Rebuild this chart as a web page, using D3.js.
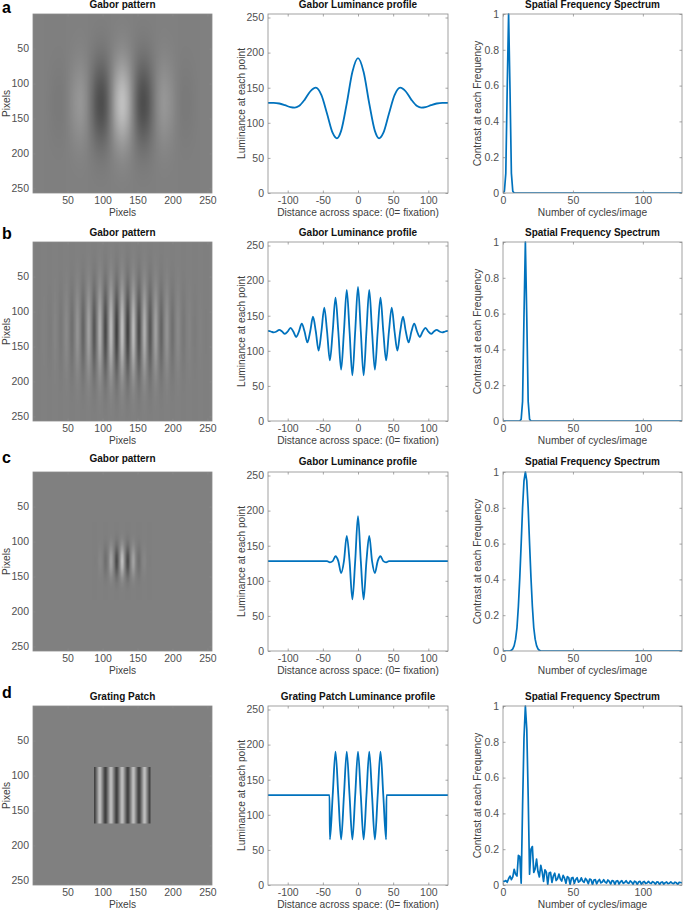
<!DOCTYPE html>
<html><head><meta charset="utf-8">
<script src="https://cdn.jsdelivr.net/npm/d3@7/dist/d3.min.js"></script>
<style>
body{margin:0;background:#fff}
text{font-family:"Liberation Sans",Arial,Helvetica,sans-serif}
</style>
</head><body>
<svg id="fig" width="684" height="914"></svg>
<script>
// ---------------- DATA ----------------
const rowLetters = ["a", "b", "c", "d"];
const imageTitles = ["Gabor pattern", "Gabor pattern", "Gabor pattern", "Grating Patch"];
const profileTitles = ["Gabor Luminance profile", "Gabor Luminance profile", "Gabor Luminance profile", "Grating Patch Luminance profile"];
const spectrumTitle = "Spatial Frequency Spectrum";
const pixelLabel = "Pixels";
const profileXLabel = "Distance across space: (0= fixation)";
const profileYLabel = "Luminance at each point";
const spectrumXLabel = "Number of cycles/image";
const spectrumYLabel = "Contrast at each Frequency";

const pixelTicks = [50, 100, 150, 200, 250];
const distanceTicks = [-100, -50, 0, 50, 100];
const luminanceTicks = [0, 50, 100, 150, 200, 250];
const cycleTicks = [0, 50, 100];
const contrastTicks = [0, 0.2, 0.4, 0.6, 0.8, 1];

// luminance profiles [distance, luminance] (centre row of each pattern)
const profileA = [[-128,128.3],[-120,128.4],[-112,127.5],[-104,125.1],[-96,122.2],[-90,121.5],[-84,123.8],[-76,132.7],[-68,144.6],[-60,150.0],[-52,139.4],[-44,112.9],[-36,85.5],[-30,77.9],[-24,88.5],[-16,127.5],[-8,172.3],[0,192],
  [8,172.3],[16,127.5],[24,88.5],[30,77.9],[36,85.5],[44,112.9],[52,139.4],[60,150.0],[68,144.6],[76,132.7],[84,123.8],[90,121.5],[96,122.2],[104,125.1],[112,127.5],[120,128.4],[128,128.3]];

const profileB = [[-128,128.3],[-124,127.5],[-120,126.2],[-116,127.5],[-112,129.7],[-108,127.5],[-104,124.1],[-100,127.5],[-96,132.8],[-92,127.5],[-88,119.7],[-84,127.5],[-80,138.7],[-76,127.5],[-72,111.9],[-68,127.5],[-64,148.5],[-60,127.5],[-56,100.3],[-52,127.5],[-48,161.6],[-44,127.5],[-40,86.3],[-36,127.5],[-32,175.6],[-28,127.5],[-24,73.1],[-20,127.5],[-16,186.7],[-12,127.5],[-8,65.1],[-4,127.5],[0,191],
  [4,127.5],[8,65.1],[12,127.5],[16,186.7],[20,127.5],[24,73.1],[28,127.5],[32,175.6],[36,127.5],[40,86.3],[44,127.5],[48,161.6],[52,127.5],[56,100.3],[60,127.5],[64,148.5],[68,127.5],[72,111.9],[76,127.5],[80,138.7],[84,127.5],[88,119.7],[92,127.5],[96,132.8],[100,127.5],[104,124.1],[108,127.5],[112,129.7],[116,127.5],[120,126.2],[124,127.5],[128,128.3]];

const profileC = [[-128,128],[-56,128],[-48,128],[-44,128],[-40,126.3],[-36,128],[-32,135],[-28,128],[-24,111],[-20,128],[-16,164],[-12,128],[-8,73.5],[-4,128],[0,192],
  [4,128],[8,73.5],[12,128],[16,164],[20,128],[24,111],[28,128],[32,135],[36,128],[40,126.3],[44,128],[48,128],[56,128],[128,128]];

const profileD = [[-128,128],[-40.5,128],[-40,65],[-36,127.5],[-32,190],[-28,127.5],[-24,65],[-20,127.5],[-16,190],[-12,127.5],[-8,65],[-4,127.5],[0,190],
  [4,127.5],[8,65],[12,127.5],[16,190],[20,127.5],[24,65],[28,127.5],[32,190],[36,127.5],[40,65],[40.5,128],[128,128]];

// vertical contrast envelope of each pattern [distance from centre row, relative contrast]
const envelopeWide = [[0,1],[8,0.983],[16,0.933],[24,0.856],[32,0.758],[40,0.649],[48,0.537],[56,0.428],[64,0.33],[72,0.246],[80,0.177],[88,0.123],[96,0.083],[104,0.054],[112,0.034],[120,0.02],[128,0.012]];
const envelopeNarrow = [[0,1],[8,0.867],[16,0.566],[24,0.278],[32,0.103],[40,0.029],[48,0.006],[56,0],[128,0]];
const envelopePatch = [[0,1],[40,1],[40.5,0],[128,0]];

// spectra [cycles/image, contrast]
const spectrumA = [[0,0],[1,0.01],[2,0.11],[3,0.58],[4,1],[5,0.58],[6,0.11],[7,0.01],[8,0],[128,0]];
const spectrumB = [[0,0],[12,0],[13,0.01],[14,0.11],[15,0.58],[16,1],[17,0.58],[18,0.11],[19,0.01],[20,0],[128,0]];
const spectrumC = [[0,0],[5,0],[6,0.004],[7,0.012],[8,0.03],[9,0.066],[10,0.13],[11,0.25],[12,0.41],[13,0.6],[14,0.8],[15,0.95],[16,1],[17,0.95],[18,0.8],[19,0.6],[20,0.41],[21,0.25],[22,0.13],[23,0.066],[24,0.03],[25,0.012],[26,0.004],[27,0],[128,0]];
const spectrumDValues = [0.02,0.02,0.025,0.015,0.035,0.05,0.03,0.045,0.088,0.06,0.05,0.165,0.16,0.01,0.44,0.82,1,0.87,0.5,0.06,0.2,0.215,0.07,0.09,0.145,0.075,0.045,0.11,0.075,0.02,0.085,0.072,0.003,
  0.067,0.071,0.014,0.05,0.066,0.025,0.035,0.061,0.033,0.022,0.054,0.038,0.01,0.047,0.041,0.002,
  0.039,0.042,0.009,0.031,0.041,0.016,0.022,0.04,0.022,0.015,0.037,0.026,0.007,0.033,0.029,0.002,
  0.028,0.03,0.006,0.022,0.031,0.012,0.017,0.03,0.016,0.011,0.028,0.02,0.005,0.025,0.022,0.002,
  0.022,0.024,0.005,0.018,0.024,0.009,0.014,0.024,0.013,0.009,0.023,0.016,0.004,0.021,0.018,0.002,
  0.018,0.02,0.004,0.015,0.02,0.008,0.011,0.02,0.011,0.008,0.019,0.014,0.004,0.017,0.016,0.002,
  0.015,0.017,0.004,0.013,0.017,0.007,0.01,0.017,0.01,0.007,0.016,0.012,0.003,0.015,0.014,0.012];

// ---------------- LAYOUT ----------------
const rowTops = [14, 242, 472, 706];
const PH = 179;
const colImg = {x: 33, w: 179}, colProf = {x: 268, w: 180}, colSpec = {x: 503, w: 179};
const letterBase = [13, 239, 463, 698];
const titleOffset = [6, 6, 7, 6];
const lineColor = "#0072BD";
const boxColor = "#8a8a8a";
const tickTextColor = "#505050";
const labelColor = "#404040";

const rows = [
  {profile: profileA, envelope: envelopeWide, spectrum: spectrumA},
  {profile: profileB, envelope: envelopeWide, spectrum: spectrumB},
  {profile: profileC, envelope: envelopeNarrow, spectrum: spectrumC},
  {profile: profileD, envelope: envelopePatch, spectrum: spectrumDValues.map((v, i) => [i, v])}
];

const svg = d3.select("#fig");
const defs = svg.append("defs");

// monotone cubic (same family as d3.curveMonotoneX) evaluator for image shading
function monotoneFn(pts) {
  const n = pts.length, xs = pts.map(p => p[0]), ys = pts.map(p => p[1]);
  const h = [], s = [], m = new Array(n).fill(0);
  for (let i = 0; i < n - 1; i++) { h[i] = xs[i+1] - xs[i]; s[i] = (ys[i+1] - ys[i]) / h[i]; }
  for (let i = 1; i < n - 1; i++) {
    const p = (s[i-1] * h[i] + s[i] * h[i-1]) / (h[i-1] + h[i]);
    m[i] = ((Math.sign(s[i-1]) + Math.sign(s[i])) * Math.min(Math.abs(s[i-1]), Math.abs(s[i]), 0.5 * Math.abs(p))) || 0;
  }
  m[0] = (3 * s[0] - m[1]) / 2;
  m[n-1] = (3 * s[n-2] - m[n-2]) / 2;
  return function(x) {
    if (x <= xs[0]) return ys[0];
    if (x >= xs[n-1]) return ys[n-1];
    let i = d3.bisectRight(xs, x) - 1;
    if (i > n - 2) i = n - 2;
    const hh = h[i], t = (x - xs[i]) / hh, t2 = t*t, t3 = t2*t;
    return (2*t3 - 3*t2 + 1) * ys[i] + (t3 - 2*t2 + t) * hh * m[i] + (-2*t3 + 3*t2) * ys[i+1] + (t3 - t2) * hh * m[i+1];
  };
}
function linearFn(pts) {
  return d3.scaleLinear().domain(pts.map(p => p[0])).range(pts.map(p => p[1])).clamp(true);
}

function drawBoxAxes(g, x, y, top, bottom, left, right, xt, yt, yfmt) {
  const xfmt = d => String(d);
  g.append("g").attr("transform", `translate(0,${bottom})`)
    .call(d3.axisBottom(x).tickValues(xt).tickSizeInner(-2.5).tickSizeOuter(0).tickPadding(3.5).tickFormat(xfmt));
  g.append("g").attr("transform", `translate(0,${top})`)
    .call(d3.axisTop(x).tickValues(xt).tickSizeInner(-2.5).tickSizeOuter(0).tickFormat(""));
  g.append("g").attr("transform", `translate(${left},0)`)
    .call(d3.axisLeft(y).tickValues(yt).tickSizeInner(-2.5).tickSizeOuter(0).tickPadding(4).tickFormat(yfmt || xfmt));
  g.append("g").attr("transform", `translate(${right},0)`)
    .call(d3.axisRight(y).tickValues(yt).tickSizeInner(-2.5).tickSizeOuter(0).tickFormat(""));
  g.selectAll(".domain").remove();
  g.selectAll(".tick line").attr("stroke", boxColor).attr("stroke-width", 0.75);
  g.selectAll(".tick text").attr("fill", tickTextColor).style("font-size", "10.5px")
    .style("font-family", '"Liberation Sans",Arial,sans-serif');
  g.append("rect").attr("x", left).attr("y", top).attr("width", right - left).attr("height", bottom - top)
    .attr("fill", "none").attr("stroke", boxColor).attr("stroke-width", 0.8);
}

function titles(g, cx, cy, top, bottom, tOff, title, xlab, ylab, ylabX) {
  g.append("text").attr("x", cx).attr("y", top - tOff).attr("text-anchor", "middle")
    .style("font-size", "10px").style("font-weight", "bold").attr("fill", "#111").text(title);
  g.append("text").attr("x", cx).attr("y", bottom + 23).attr("text-anchor", "middle")
    .style("font-size", "10.2px").attr("fill", labelColor).text(xlab);
  g.append("text").attr("transform", `translate(${ylabX},${cy}) rotate(-90)`).attr("text-anchor", "middle")
    .style("font-size", "10.2px").attr("fill", labelColor).text(ylab);
}

const grayScale = d3.scaleLinear().domain([0, 255]).range([0, 255]).clamp(true);

rows.forEach((row, r) => {
  const top = rowTops[r], bottom = top + PH;
  const g = svg.append("g");

  // panel letter
  g.append("text").attr("x", 2).attr("y", letterBase[r]).style("font-size", "16px")
    .style("font-weight", "bold").attr("fill", "#000").text(rowLetters[r]);

  // ---- image panel ----
  {
    const left = colImg.x, right = colImg.x + colImg.w;
    const x = d3.scaleLinear().domain([0.5, 256.5]).range([left, right]);
    const y = d3.scaleLinear().domain([0.5, 256.5]).range([top, bottom]);
    const prof = monotoneFn(row.profile);
    const env = linearFn(row.envelope);
    const cv = document.createElement("canvas");
    cv.width = 256; cv.height = 256;
    const ctx = cv.getContext("2d");
    const img = ctx.createImageData(256, 256);
    const colVals = d3.range(256).map(j => prof(j - 127) - 127.5);
    const rowVals = d3.range(256).map(i => env(Math.abs(i - 127)));
    for (let i = 0; i < 256; i++) {
      for (let j = 0; j < 256; j++) {
        const v = Math.round(grayScale(127.5 + colVals[j] * rowVals[i]));
        const k = (i * 256 + j) * 4;
        img.data[k] = v; img.data[k+1] = v; img.data[k+2] = v; img.data[k+3] = 255;
      }
    }
    ctx.putImageData(img, 0, 0);
    g.append("image").attr("href", cv.toDataURL())
      .attr("x", x(0.5)).attr("y", y(0.5)).attr("width", x(256.5) - x(0.5)).attr("height", y(256.5) - y(0.5))
      .attr("preserveAspectRatio", "none");
    drawBoxAxes(g, x, y, top, bottom, left, right, pixelTicks, pixelTicks);
    titles(g, (left + right) / 2, (top + bottom) / 2, top, bottom, titleOffset[r] + (r === 2 ? 3 : 0), imageTitles[r], pixelLabel, pixelLabel, left - 23);
  }

  // ---- luminance profile panel ----
  {
    const left = colProf.x, right = colProf.x + colProf.w;
    const x = d3.scaleLinear().domain([-128, 128]).range([left, right]);
    const y = d3.scaleLinear().domain([0, 255]).range([bottom, top]);
    const cid = "clipP" + r;
    defs.append("clipPath").attr("id", cid).append("rect").attr("x", left).attr("y", top).attr("width", right - left).attr("height", PH);
    g.append("path").datum(row.profile).attr("clip-path", `url(#${cid})`)
      .attr("fill", "none").attr("stroke", lineColor).attr("stroke-width", 1.8).attr("stroke-linejoin", "round")
      .attr("d", d3.line().x(d => x(d[0])).y(d => y(d[1])).curve(d3.curveMonotoneX));
    drawBoxAxes(g, x, y, top, bottom, left, right, distanceTicks, luminanceTicks);
    titles(g, (left + right) / 2, (top + bottom) / 2, top, bottom, titleOffset[r], profileTitles[r], profileXLabel, profileYLabel, left - 23);
  }

  // ---- spectrum panel ----
  {
    const left = colSpec.x, right = colSpec.x + colSpec.w;
    const x = d3.scaleLinear().domain([0, 128]).range([left, right]);
    const y = d3.scaleLinear().domain([0, 1]).range([bottom, top]);
    const cid = "clipS" + r;
    defs.append("clipPath").attr("id", cid).append("rect").attr("x", left).attr("y", top - 1).attr("width", right - left).attr("height", PH + 1);
    g.append("path").datum(row.spectrum).attr("clip-path", `url(#${cid})`)
      .attr("fill", "none").attr("stroke", lineColor).attr("stroke-width", 1.7).attr("stroke-linejoin", "round")
      .attr("d", d3.line().x(d => x(d[0])).y(d => y(d[1])));
    drawBoxAxes(g, x, y, top, bottom, left, right, cycleTicks, contrastTicks, d => String(d));
    titles(g, (left + right) / 2, (top + bottom) / 2, top, bottom, titleOffset[r], spectrumTitle, spectrumXLabel, spectrumYLabel, left - 22);
  }
});
</script>
</body></html>
